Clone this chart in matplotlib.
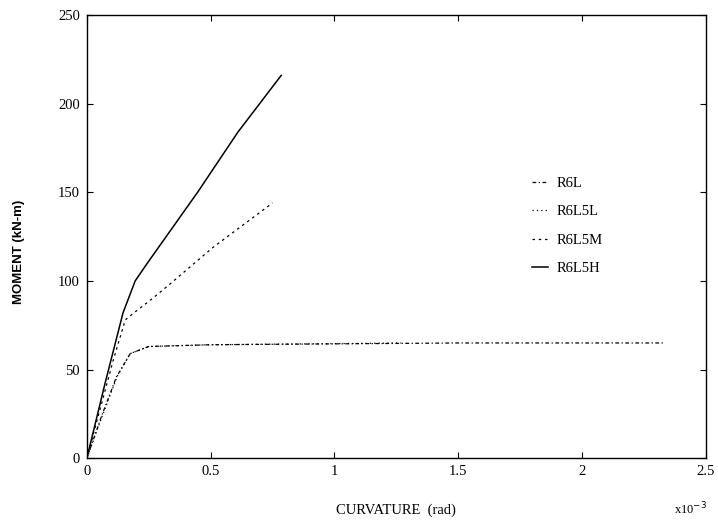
import matplotlib
matplotlib.use("Agg")
import matplotlib.pyplot as plt

# Curvature values in units of 1e-3 rad, moments in kN-m
r6l_x = [0.0, 0.06, 0.12, 0.175, 0.25, 0.5, 1.0, 1.5, 2.0, 2.33]
r6l_y = [0.0, 24, 46, 59, 63, 64, 64.5, 65, 65, 65]

r6l5l_x = [0.0, 0.06, 0.122, 0.175, 0.248, 0.5, 0.9, 1.27]
r6l5l_y = [0.0, 23, 46, 59, 63, 64, 64.5, 65]

r6l5m_x = [0.0, 0.106, 0.155, 0.19, 0.264, 0.33, 0.51, 0.75]
r6l5m_y = [0.0, 55, 78, 82, 90, 97.6, 119, 144]

r6l5h_x = [0.0, 0.073, 0.146, 0.195, 0.244, 0.447, 0.61, 0.785]
r6l5h_y = [0.0, 42, 82, 100, 110, 150, 184, 216]

x_ticks = [0, 0.5, 1, 1.5, 2, 2.5]
x_tick_labels = ["0", "0.5", "1", "1.5", "2", "2.5"]
y_ticks = [0, 50, 100, 150, 200, 250]
y_tick_labels = ["0", "50", "100", "150", "200", "250"]

serif = ["Liberation Serif", "DejaVu Serif"]

fig = plt.figure(figsize=(7.18, 5.23), dpi=100)
ax = fig.add_axes([0.121, 0.124, 0.862, 0.847])

lw = 0.9
ax.plot(r6l_x, r6l_y, color="black", lw=lw, linestyle=(0, (3, 2, 1, 2)), label="R6L")
ax.plot(r6l5l_x, r6l5l_y, color="black", lw=lw, linestyle=(0, (1, 2.5)), label="R6L5L")
ax.plot(r6l5m_x, r6l5m_y, color="black", lw=lw, linestyle=(0, (2, 3)), label="R6L5M")
ax.plot(r6l5h_x, r6l5h_y, color="black", lw=1.1, linestyle="-", label="R6L5H")

ax.set_xlim(0, 2.5)
ax.set_ylim(0, 250)
ax.set_xticks(x_ticks)
ax.set_xticklabels(x_tick_labels, fontfamily=serif, fontsize=10.5)
ax.set_yticks(y_ticks)
ax.set_yticklabels(y_tick_labels, fontfamily=serif, fontsize=10.5)
ax.tick_params(direction="in", length=4, width=0.8, top=True, right=True, pad=5)

for s in ax.spines.values():
    s.set_linewidth(1.0)

ax.set_xlabel("CURVATURE  (rad)", fontfamily=serif, fontsize=10.5)
ax.xaxis.set_label_coords(0.5, -0.102)
ax.set_ylabel("MOMENT (kN-m)", fontfamily=["Liberation Sans", "DejaVu Sans"],
              fontsize=9.5, fontweight="bold")
ax.yaxis.set_label_coords(-0.1, 0.465)
fig.text(0.962, 0.027, "x10$^{-3}$", fontfamily=serif, fontsize=9, ha="center", va="center")

leg = ax.legend(loc="upper left", bbox_to_anchor=(0.698, 0.665), frameon=False,
                handlelength=1.1, handletextpad=0.6, labelspacing=1.05,
                prop={"family": serif, "size": 10.5})

fig.savefig("out.png", dpi=100, facecolor="white")
